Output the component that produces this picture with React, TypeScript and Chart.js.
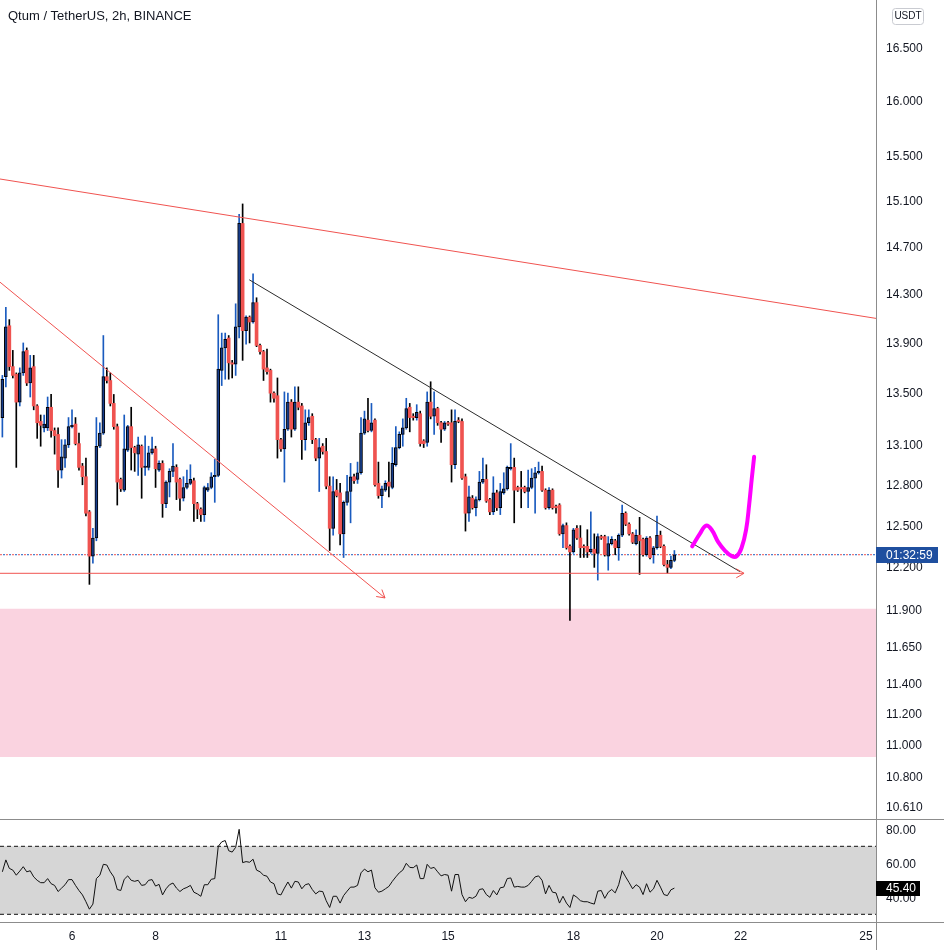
import React, { useEffect, useRef } from 'react';
import { Chart, registerables } from 'chart.js';

Chart.register(...registerables);

// ---------------- data ----------------
const TITLE = 'Qtum / TetherUS, 2h, BINANCE';
const CURRENCY = 'USDT';
const COUNTDOWN = '01:32:59';
const FIRST_BAR_DAY = 4 + 8 / 24; // first 2h bar: the 4th, 08:00
const BARS_PER_DAY = 12;

const opens = [
  13.30, 13.62, 14.03, 13.70, 13.64, 13.42, 13.65, 13.83, 13.57, 13.70,
  13.39, 13.27, 13.22, 13.22, 13.38, 13.20, 13.17, 12.90, 12.99, 13.09,
  13.23, 13.25, 13.10, 12.93, 12.85, 12.59, 12.27, 12.40, 13.08, 13.18,
  13.62, 13.59, 13.41, 13.23, 12.83, 12.75, 13.05, 13.23, 13.07, 13.02,
  13.08, 12.92, 12.92, 13.03, 13.06, 12.90, 12.95, 12.65, 12.81, 12.89,
  12.92, 12.83, 12.69, 12.77, 12.80, 12.82, 12.65, 12.61, 12.57, 12.75,
  12.77, 12.85, 12.86, 13.67, 13.85, 13.93, 13.73, 13.72, 14.02, 14.89,
  13.99, 14.10, 14.06, 14.22, 13.87, 13.82, 13.69, 13.67, 13.49, 13.47,
  13.13, 13.06, 13.21, 13.42, 13.21, 13.42, 13.39, 13.13, 13.26, 13.31,
  13.13, 12.99, 13.08, 13.04, 12.78, 12.47, 12.75, 12.73, 12.43, 12.66,
  12.74, 12.85, 12.83, 12.88, 13.18, 13.28, 13.20, 13.28, 12.80, 12.71,
  12.75, 12.81, 12.77, 12.94, 13.07, 13.17, 13.22, 13.38, 13.31, 13.30,
  13.33, 13.12, 13.11, 13.42, 13.31, 13.37, 13.26, 13.21, 13.26, 13.26,
  12.94, 13.28, 13.27, 12.85, 12.58, 12.69, 12.62, 12.68, 12.81, 12.83,
  12.68, 12.59, 12.73, 12.62, 12.73, 12.76, 12.91, 12.92, 12.77, 12.77,
  12.77, 12.74, 12.77, 12.84, 12.88, 12.89, 12.75, 12.62, 12.75, 12.63,
  12.64, 12.43, 12.49, 12.34, 12.30, 12.47, 12.40, 12.34, 12.34, 12.30,
  12.32, 12.29, 12.41, 12.41, 12.27, 12.36, 12.38, 12.33, 12.42, 12.58,
  12.50, 12.43, 12.36, 12.42, 12.39, 12.28, 12.40, 12.28, 12.33, 12.42,
  12.34, 12.21, 12.19, 12.24,
];
const highs = [
  13.63, 14.18, 14.08, 13.83, 13.65, 13.69, 13.89, 13.85, 13.79, 13.79,
  13.40, 13.32, 13.32, 13.46, 13.48, 13.22, 13.22, 13.13, 13.13, 13.30,
  13.36, 13.30, 13.18, 12.95, 12.99, 12.60, 12.47, 13.30, 13.26, 13.95,
  13.69, 13.65, 13.48, 13.25, 12.84, 13.32, 13.24, 13.38, 13.08, 13.15,
  13.09, 13.16, 13.08, 13.15, 13.08, 12.97, 12.97, 12.82, 12.91, 13.10,
  12.94, 12.84, 12.85, 12.90, 12.94, 12.84, 12.66, 12.62, 12.78, 12.80,
  12.88, 12.98, 14.12, 13.97, 13.97, 13.95, 13.75, 14.21, 14.97, 15.06,
  14.11, 14.11, 14.46, 14.26, 13.88, 13.83, 13.84, 13.68, 13.50, 13.61,
  13.14, 13.50, 13.49, 13.44, 13.54, 13.54, 13.41, 13.36, 13.36, 13.33,
  13.14, 13.14, 13.10, 13.14, 12.85, 12.85, 12.83, 12.80, 12.67, 12.86,
  12.95, 12.87, 12.96, 13.30, 13.35, 13.45, 13.41, 13.29, 12.96, 12.78,
  12.82, 12.96, 13.07, 13.23, 13.19, 13.29, 13.45, 13.41, 13.33, 13.40,
  13.35, 13.13, 13.50, 13.58, 13.50, 13.38, 13.27, 13.27, 13.27, 13.36,
  13.36, 13.30, 13.29, 12.87, 12.78, 12.71, 12.70, 12.89, 12.99, 12.94,
  12.69, 12.85, 12.75, 12.80, 12.88, 12.93, 13.10, 12.99, 12.78, 12.89,
  12.78, 12.90, 12.91, 12.92, 12.96, 12.93, 12.76, 12.77, 12.76, 12.64,
  12.65, 12.50, 12.51, 12.35, 12.47, 12.49, 12.49, 12.35, 12.46, 12.59,
  12.43, 12.43, 12.42, 12.42, 12.41, 12.41, 12.39, 12.43, 12.64, 12.59,
  12.51, 12.44, 12.46, 12.55, 12.40, 12.41, 12.41, 12.34, 12.56, 12.45,
  12.35, 12.24, 12.27, 12.31,
];
const lows = [
  13.15, 13.54, 13.67, 13.61, 12.92, 13.39, 13.63, 13.55, 13.46, 13.36,
  13.14, 13.08, 13.19, 13.20, 13.15, 13.02, 12.77, 12.84, 12.92, 13.07,
  13.22, 13.09, 12.90, 12.79, 12.56, 12.07, 12.22, 12.38, 13.07, 13.17,
  13.57, 13.39, 13.21, 12.64, 12.74, 12.74, 13.04, 12.90, 12.89, 12.86,
  12.69, 12.86, 12.90, 13.02, 12.77, 12.89, 12.55, 12.62, 12.70, 12.85,
  12.68, 12.60, 12.67, 12.76, 12.79, 12.52, 12.54, 12.52, 12.52, 12.74,
  12.76, 12.66, 12.85, 13.55, 13.60, 13.60, 13.61, 13.63, 13.93, 13.75,
  13.88, 13.89, 14.05, 13.86, 13.80, 13.59, 13.64, 13.42, 13.42, 12.99,
  13.04, 12.81, 13.20, 13.15, 13.20, 13.36, 12.98, 13.05, 13.24, 13.10,
  12.97, 12.74, 13.02, 12.76, 12.31, 12.42, 12.70, 12.35, 12.26, 12.64,
  12.51, 12.80, 12.80, 12.87, 13.17, 13.19, 13.19, 12.78, 12.69, 12.62,
  12.74, 12.70, 12.76, 12.93, 13.06, 13.08, 13.21, 13.19, 13.28, 13.28,
  13.08, 13.07, 13.08, 13.29, 13.17, 13.24, 13.11, 13.20, 13.24, 12.81,
  12.91, 13.26, 12.83, 12.45, 12.52, 12.61, 12.56, 12.67, 12.80, 12.66,
  12.57, 12.57, 12.60, 12.57, 12.72, 12.75, 12.90, 12.51, 12.74, 12.62,
  12.73, 12.62, 12.76, 12.58, 12.87, 12.74, 12.61, 12.61, 12.61, 12.58,
  12.42, 12.33, 12.32, 11.82, 12.29, 12.39, 12.26, 12.26, 12.26, 12.29,
  12.19, 12.10, 12.39, 12.27, 12.17, 12.35, 12.28, 12.24, 12.41, 12.49,
  12.42, 12.36, 12.35, 12.14, 12.27, 12.27, 12.25, 12.22, 12.32, 12.33,
  12.20, 12.15, 12.18, 12.23,
];
const closes = [
  13.60, 14.02, 13.70, 13.63, 13.42, 13.65, 13.82, 13.57, 13.69, 13.39,
  13.26, 13.24, 13.25, 13.38, 13.20, 13.16, 12.90, 13.00, 13.09, 13.23,
  13.24, 13.10, 12.92, 12.85, 12.58, 12.27, 12.40, 13.08, 13.18, 13.62,
  13.59, 13.41, 13.23, 12.81, 12.76, 13.06, 13.23, 13.07, 13.03, 13.09,
  12.92, 12.93, 13.03, 13.06, 12.91, 12.95, 12.65, 12.81, 12.89, 12.93,
  12.81, 12.69, 12.77, 12.80, 12.83, 12.65, 12.61, 12.57, 12.77, 12.77,
  12.85, 12.86, 13.68, 13.85, 13.92, 13.73, 13.72, 14.02, 14.89, 13.99,
  14.10, 14.06, 14.22, 13.87, 13.82, 13.68, 13.66, 13.49, 13.45, 13.13,
  13.06, 13.21, 13.42, 13.21, 13.42, 13.38, 13.13, 13.26, 13.30, 13.13,
  12.99, 13.07, 13.04, 12.78, 12.47, 12.74, 12.71, 12.43, 12.66, 12.74,
  12.85, 12.82, 12.88, 13.18, 13.29, 13.20, 13.26, 12.79, 12.71, 12.76,
  12.80, 12.78, 12.95, 13.07, 13.17, 13.22, 13.37, 13.30, 13.30, 13.34,
  13.10, 13.10, 13.42, 13.31, 13.37, 13.26, 13.21, 13.26, 13.25, 12.94,
  13.27, 13.27, 12.84, 12.58, 12.70, 12.62, 12.68, 12.81, 12.83, 12.67,
  12.59, 12.73, 12.62, 12.74, 12.76, 12.92, 12.92, 12.75, 12.75, 12.76,
  12.74, 12.77, 12.84, 12.88, 12.89, 12.75, 12.62, 12.75, 12.62, 12.62,
  12.43, 12.49, 12.33, 12.30, 12.46, 12.40, 12.33, 12.33, 12.30, 12.32,
  12.29, 12.41, 12.40, 12.28, 12.36, 12.39, 12.33, 12.42, 12.58, 12.50,
  12.43, 12.37, 12.42, 12.38, 12.28, 12.40, 12.26, 12.33, 12.42, 12.34,
  12.21, 12.19, 12.24, 12.28,
];
const rsi = [
  55.0, 62.0, 57.0, 56.0, 53.0, 55.4, 58.0, 55.0, 55.6, 52.0,
  50.0, 48.6, 48.6, 51.0, 48.0, 47.0, 43.4, 45.4, 47.4, 50.4,
  50.4, 47.0, 44.0, 41.4, 37.4, 33.0, 36.0, 51.0, 53.0, 59.4,
  59.0, 55.0, 52.0, 44.6, 44.0, 50.6, 52.6, 50.0, 49.4, 50.0,
  47.0, 47.4, 50.0, 50.4, 46.6, 47.6, 41.4, 45.0, 47.4, 48.4,
  45.4, 43.4, 45.0, 45.8, 47.0, 43.0, 42.0, 40.6, 47.4, 47.4,
  50.6, 51.0, 70.0, 72.6, 73.4, 67.4, 66.6, 69.4, 80.0, 60.4,
  61.0, 60.6, 62.4, 56.0, 55.0, 53.0, 52.4, 49.0, 48.0, 42.0,
  41.4, 45.4, 49.0, 45.4, 49.4, 49.0, 45.0, 47.4, 48.0, 44.6,
  42.0, 43.6, 43.4, 38.0, 34.0, 40.6, 40.6, 36.6, 41.0, 43.6,
  46.0, 46.0, 47.0, 54.4, 56.6, 55.0, 56.0, 45.6, 43.0, 43.6,
  45.0, 46.4, 49.4, 52.0, 54.4, 56.0, 60.0, 57.6, 57.4, 59.0,
  51.0, 51.0, 59.4, 57.0, 57.6, 55.0, 52.6, 53.4, 53.0, 43.6,
  53.4, 53.4, 41.6, 37.4, 40.0, 39.4, 40.6, 44.6, 45.0, 41.6,
  40.0, 44.0, 41.4, 45.6, 46.0, 51.0, 51.4, 46.0, 46.4, 46.0,
  46.0, 47.0, 49.4, 52.0, 52.6, 50.0, 42.0, 47.0, 43.0, 42.6,
  36.6, 40.6, 36.6, 34.0, 41.4, 40.0, 38.0, 37.4, 37.4, 36.6,
  36.0, 43.6, 44.0, 39.4, 43.0, 44.6, 42.6, 47.4, 55.6, 52.0,
  48.6, 45.0, 47.4, 46.0, 41.6, 48.0, 43.0, 45.0, 50.0, 46.0,
  41.6, 41.0, 44.4, 45.4,
];

const priceTicks = [16.5, 16.0, 15.5, 15.1, 14.7, 14.3, 13.9, 13.5, 13.1, 12.8, 12.5, 12.2, 11.9, 11.65, 11.4, 11.2, 11.0, 10.8, 10.61];
const rsiTicks = [80, 60, 40];
const rsiBand = [30, 70];
const dayTicks = [6, 8, 11, 13, 15, 18, 20, 22, 25];

const priceMin = 10.53;
const priceMax = 16.957;
const rsiMin = 25.47;
const rsiMax = 85.47;
const barMin = -0.68;
const barMax = 250.9;

// drawings as [bar index, price]
const upperRedLine = [[-0.68, 15.28], [250.9, 14.09]];
const redArrowLine = [[-0.68, 14.39], [109.9, 11.975]];
const blackTrendLine = [[70.9, 14.41], [211.8, 12.16]];
const supportLine = [[-0.68, 12.148], [213.0, 12.148]];
const zonePrices = [11.9, 10.917];
const projection = [
  [198.1, 12.34], [200.3, 12.43], [202.1, 12.49], [203.7, 12.46], [205.6, 12.37],
  [207.5, 12.31], [209.5, 12.27], [210.9, 12.27], [212.3, 12.33], [213.6, 12.46],
  [214.5, 12.65], [215.2, 12.83], [215.9, 13.0],
];

// ---------------- styles ----------------
const FONT = "'Liberation Sans', Arial, sans-serif";
const TEXT = '#131722';
const AXIS_LINE = '#8c8c8c';
const UP_BODY = '#173d8c';
const UP_WICK = '#1a5bbf';
const DOWN_BODY = '#ef5350';
const DOWN_WICK = '#000000';
const RED_LINE = '#f05350';
const BLACK_LINE = '#2b2b2b';
const MAGENTA = '#ff00ff';
const ZONE = '#fad3e0';
const BAND = '#d6d6d6';
const COUNTDOWN_BG = '#1f4f9f';

const toXY = (pts: number[][]) => pts.map(([x, y]) => ({ x, y }));
const isUp = (i: number) => closes[i] >= opens[i];

export default function App() {
  const mainRef = useRef<HTMLCanvasElement>(null);
  const rsiRef = useRef<HTMLCanvasElement>(null);

  useEffect(() => {
    Chart.defaults.font.family = FONT;
    const lastClose = closes[closes.length - 1];

    const mainOverlay = {
      id: 'mainOverlay',
      afterDraw(chart: any) {
        const { ctx, chartArea, scales } = chart;
        const px = (p: number[]) => [scales.x.getPixelForValue(p[0]), scales.y.getPixelForValue(p[1])];
        ctx.save();
        const head = (line: number[][]) => {
          const [x0, y0] = px(line[line.length - 2]);
          const [x1, y1] = px(line[line.length - 1]);
          const a = Math.atan2(y1 - y0, x1 - x0);
          const L = 9;
          const s = Math.PI / 6;
          ctx.beginPath();
          ctx.moveTo(x1 - L * Math.cos(a - s), y1 - L * Math.sin(a - s));
          ctx.lineTo(x1, y1);
          ctx.lineTo(x1 - L * Math.cos(a + s), y1 - L * Math.sin(a + s));
          ctx.strokeStyle = RED_LINE;
          ctx.lineWidth = 1;
          ctx.stroke();
        };
        head(redArrowLine);
        head(supportLine);

        // title
        ctx.font = `13px ${FONT}`;
        ctx.fillStyle = TEXT;
        ctx.textAlign = 'left';
        ctx.textBaseline = 'middle';
        ctx.fillText(TITLE, 8, 16);

        // currency box
        const bx = chartArea.right + 16.5;
        ctx.beginPath();
        ctx.roundRect(bx, 8.5, 31, 16, 3);
        ctx.strokeStyle = '#c9cbd1';
        ctx.lineWidth = 1;
        ctx.stroke();
        ctx.font = `10px ${FONT}`;
        ctx.textAlign = 'center';
        ctx.fillText(CURRENCY, bx + 15.5, 16.5);

        // countdown label on the price line
        const yl = scales.y.getPixelForValue(lastClose);
        ctx.fillStyle = COUNTDOWN_BG;
        ctx.fillRect(chartArea.right, Math.round(yl) - 8, 62, 16);
        ctx.fillStyle = '#ffffff';
        ctx.font = `12px ${FONT}`;
        ctx.textAlign = 'left';
        ctx.fillText(COUNTDOWN, chartArea.right + 10, Math.round(yl) + 0.5);
        ctx.restore();
      },
    };

    const lineDs = (data: any[], color: string, extra: any = {}) => ({
      type: 'line',
      data,
      borderColor: color,
      borderWidth: 1,
      pointRadius: 0,
      fill: false,
      tension: 0,
      ...extra,
    });

    const main = new Chart(mainRef.current as HTMLCanvasElement, {
      type: 'bar',
      data: {
        datasets: [
          lineDs(toXY([[barMin, zonePrices[0]], [barMax, zonePrices[0]]]), 'rgba(0,0,0,0)', {
            fill: '+1', backgroundColor: ZONE, borderWidth: 0, order: 20,
          }),
          lineDs(toXY([[barMin, zonePrices[1]], [barMax, zonePrices[1]]]), 'rgba(0,0,0,0)', {
            borderWidth: 0, order: 21,
          }),
          lineDs(toXY([[barMin, closes[closes.length - 1]], [barMax, closes[closes.length - 1]]]), RED_LINE, {
            borderDash: [2, 4], order: 10,
          }),
          lineDs(toXY([[barMin, closes[closes.length - 1]], [barMax, closes[closes.length - 1]]]), UP_WICK, {
            borderDash: [2, 4], borderDashOffset: 3, order: 11,
          }),
          {
            type: 'bar',
            data: opens.map((o, i) => ({ x: i, y: [lows[i], highs[i]] })),
            backgroundColor: opens.map((o, i) => (isUp(i) ? UP_WICK : DOWN_WICK)),
            barThickness: 1,
            grouped: false,
            order: 6,
          },
          {
            type: 'bar',
            data: opens.map((o, i) => ({ x: i, y: [o, closes[i]] })),
            backgroundColor: opens.map((o, i) => (isUp(i) ? UP_BODY : DOWN_BODY)),
            borderColor: opens.map((o, i) => (isUp(i) ? '#000000' : DOWN_BODY)),
            borderWidth: opens.map((o, i) => (isUp(i) ? 1 : 0)),
            borderSkipped: false,
            barThickness: 3,
            minBarLength: 1,
            grouped: false,
            order: 5,
          },
          lineDs(toXY(upperRedLine), RED_LINE, { order: 2 }),
          lineDs(toXY(redArrowLine), RED_LINE, { order: 2 }),
          lineDs(toXY(supportLine), RED_LINE, { order: 2 }),
          lineDs(toXY(blackTrendLine), BLACK_LINE, { order: 2 }),
          lineDs(toXY(projection), MAGENTA, {
            borderWidth: 4, tension: 0.4, borderCapStyle: 'round', borderJoinStyle: 'round', order: 1,
          }),
        ] as any,
      },
      options: {
        responsive: false,
        animation: false,
        events: [],
        layout: { padding: 0 },
        plugins: { legend: { display: false }, tooltip: { enabled: false } },
        scales: {
          x: { type: 'linear', min: barMin, max: barMax, display: false, offset: false, bounds: 'data' },
          y: {
            type: 'logarithmic',
            position: 'right',
            min: priceMin,
            max: priceMax,
            bounds: 'data',
            grid: { display: false, drawTicks: false },
            border: { display: true, color: AXIS_LINE },
            afterBuildTicks: (s: any) => { s.ticks = priceTicks.map((v) => ({ value: v })); },
            afterFit: (s: any) => { s.width = 68; s.paddingTop = 0; s.paddingBottom = 0; },
            ticks: {
              autoSkip: false,
              padding: 10,
              labelOffset: 2,
              crossAlign: 'near',
              color: TEXT,
              font: { size: 12, family: FONT },
              callback: (v: any) => Number(v).toFixed(3),
            },
          },
        } as any,
      },
      plugins: [mainOverlay],
    } as any);

    const rsiOverlay = {
      id: 'rsiOverlay',
      afterDraw(chart: any) {
        const { ctx, chartArea, scales, width, height } = chart;
        ctx.save();
        ctx.fillStyle = AXIS_LINE;
        ctx.fillRect(0, 0, width, 1);
        ctx.fillRect(0, chartArea.bottom, width, 1);
        ctx.fillRect(chartArea.right, chartArea.bottom, 1, height - chartArea.bottom);
        const last = rsi[rsi.length - 1];
        const y = Math.round(scales.y.getPixelForValue(last));
        ctx.fillStyle = '#000000';
        ctx.fillRect(chartArea.right, y - 7, 44, 15);
        ctx.fillStyle = '#ffffff';
        ctx.font = `12px ${FONT}`;
        ctx.textAlign = 'left';
        ctx.textBaseline = 'middle';
        ctx.fillText(last.toFixed(2), chartArea.right + 10, y + 0.5);
        ctx.restore();
      },
    };

    const rsiChart = new Chart(rsiRef.current as HTMLCanvasElement, {
      type: 'line',
      data: {
        datasets: [
          lineDs(toXY([[barMin, rsiBand[1]], [barMax, rsiBand[1]]]), '#111111', {
            borderDash: [4, 3], fill: { value: rsiBand[0] }, backgroundColor: BAND, order: 5,
          }),
          lineDs(toXY([[barMin, rsiBand[0]], [barMax, rsiBand[0]]]), '#111111', {
            borderDash: [4, 3], order: 4,
          }),
          lineDs(rsi.map((v, i) => ({ x: i, y: v })), '#111111', { order: 1 }),
        ] as any,
      },
      options: {
        responsive: false,
        animation: false,
        events: [],
        layout: { padding: { top: 1, left: 0, right: 0, bottom: 0 } },
        plugins: { legend: { display: false }, tooltip: { enabled: false } },
        scales: {
          x: {
            type: 'linear',
            min: barMin,
            max: barMax,
            offset: false,
            bounds: 'data',
            position: 'bottom',
            grid: { display: false, drawTicks: false },
            border: { display: false },
            afterBuildTicks: (s: any) => {
              s.ticks = dayTicks.map((d) => ({ value: (d - FIRST_BAR_DAY) * BARS_PER_DAY }));
            },
            afterFit: (s: any) => { s.height = 28; s.paddingLeft = 0; s.paddingRight = 0; },
            ticks: {
              autoSkip: false,
              maxRotation: 0,
              padding: 7,
              color: TEXT,
              font: { size: 12, family: FONT },
              callback: (v: any, i: number) => String(dayTicks[i]),
            },
          },
          y: {
            type: 'linear',
            position: 'right',
            min: rsiMin,
            max: rsiMax,
            bounds: 'data',
            grid: { display: false, drawTicks: false },
            border: { display: true, color: AXIS_LINE },
            afterBuildTicks: (s: any) => { s.ticks = rsiTicks.map((v) => ({ value: v })); },
            afterFit: (s: any) => { s.width = 68; s.paddingTop = 0; s.paddingBottom = 0; },
            ticks: {
              autoSkip: false,
              padding: 10,
              labelOffset: 1.5,
              crossAlign: 'near',
              color: TEXT,
              font: { size: 12, family: FONT },
              callback: (v: any) => Number(v).toFixed(2),
            },
          },
        } as any,
      },
      plugins: [rsiOverlay],
    } as any);

    return () => {
      main.destroy();
      rsiChart.destroy();
    };
  }, []);

  return (
    <div style={{ position: 'absolute', left: 0, top: 0, width: 944, height: 950, background: '#ffffff', overflow: 'hidden' }}>
      <canvas ref={mainRef} width={944} height={819} style={{ position: 'absolute', left: 0, top: 0, display: 'block' }} />
      <canvas ref={rsiRef} width={944} height={131} style={{ position: 'absolute', left: 0, top: 819, display: 'block' }} />
    </div>
  );
}
